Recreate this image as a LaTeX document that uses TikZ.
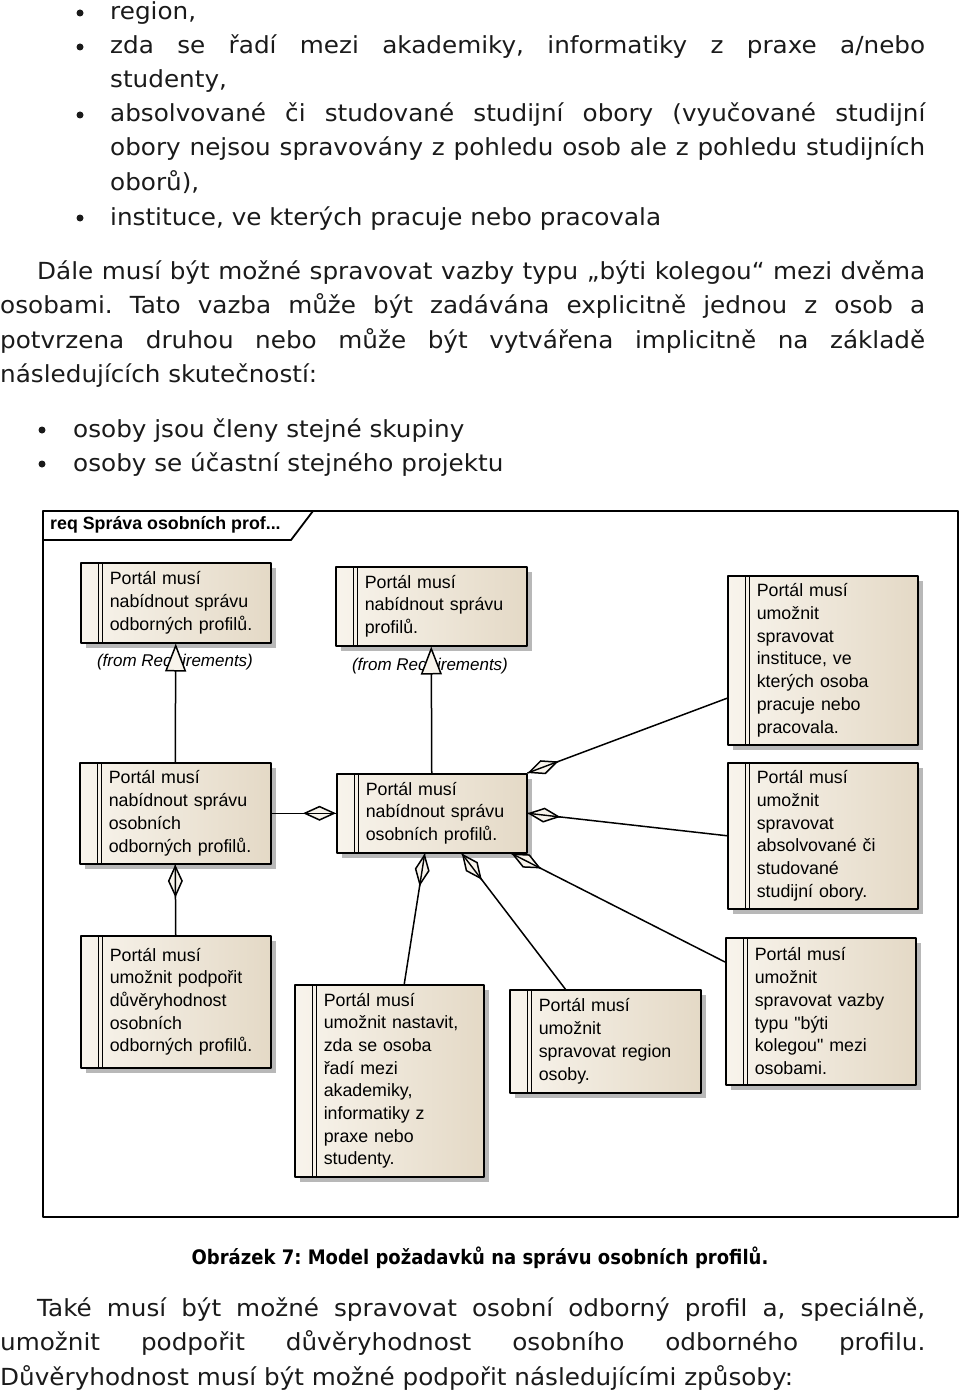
\documentclass[tikz,border=0pt]{standalone}
\usepackage{fontspec}
\setmainfont{DejaVu Sans}
\newfontfamily\bodyfont[FakeStretch=1.05]{DejaVu Sans}
\newfontfamily\umlfont{Liberation Sans}
\newfontfamily\capfont[FakeStretch=0.9]{DejaVu Sans}
\usetikzlibrary{arrows.meta,calc,shadows}
\frenchspacing

\definecolor{reqlight}{HTML}{F8F4EC}
\definecolor{reqdark}{HTML}{E4D9C6}
\definecolor{reqshadow}{HTML}{B8B8B8}
\definecolor{bodyink}{HTML}{1A1A1A}

\tikzset{
  bodytxt/.style={anchor=base west,inner sep=0pt,text=bodyink,
    font=\bodyfont\fontsize{23.5}{34}\selectfont},
  reqbox/.style 2 args={anchor=north west,draw,line width=1.5pt,
    left color=reqlight,right color=reqdark,inner sep=0pt,
    text width=#1,minimum width=#1,minimum height=#2,align=left,
    font=\umlfont\fontsize{17.8}{22.7}\selectfont,
    execute at begin node={\leftskip=29pt},
    drop shadow={shadow xshift=5pt,shadow yshift=-5pt,fill=reqshadow,opacity=1},
    path picture={\draw[line width=1.4pt]
      ([xshift=18pt]path picture bounding box.north west) --
      ([xshift=18pt]path picture bounding box.south west)
      ([xshift=22pt]path picture bounding box.north west) --
      ([xshift=22pt]path picture bounding box.south west);}},
  fromtxt/.style={inner sep=0pt,font=\umlfont\itshape\fontsize{17}{20}\selectfont},
  realize/.style={line width=1.5pt,-{Triangle[length=28pt,width=21pt,fill=reqlight]}},
  aggr/.style={line width=1.5pt,-{Diamond[length=33pt,width=15pt,fill=reqlight]}},
  dot/.style={fill=bodyink}
}
% whole-part link: diamond at the second end, axis line through it
\newcommand\partof[2]{%
  \draw[aggr] (#1) -- (#2);
  \draw[line width=1.4pt] ($(#2)!33pt!(#1)$) -- (#2);}

\begin{document}
\begin{tikzpicture}[x=1pt,y=-1pt,line cap=round,line join=round]
\useasboundingbox (0,0) rectangle (960,1391);

% text above the figure
\fill[dot] (80,13) circle (3.5);
\node[bodytxt] (t1) at (110,20) {region,};
\fill[dot] (80,47) circle (3.5);
\node[bodytxt] (t2) at (110,54) {\makebox[815pt][s]{zda se řadí mezi akademiky, informatiky z praxe a/nebo}};
\node[bodytxt] (t3) at (110,88) {studenty,};
\fill[dot] (80,115) circle (3.5);
\node[bodytxt] (t4) at (110,122) {\makebox[815pt][s]{absolvované či studované studijní obory (vyučované studijní}};
\node[bodytxt] (t5) at (110,156) {\makebox[815pt][s]{obory nejsou spravovány z pohledu osob ale z pohledu studijních}};
\node[bodytxt] (t6) at (110,190) {oborů),};
\fill[dot] (80,218) circle (3.5);
\node[bodytxt] (t7) at (110,225) {instituce, ve kterých pracuje nebo pracovala};
\node[bodytxt] (t8) at (37,279) {\makebox[888pt][s]{Dále musí být možné spravovat vazby typu „býti kolegou“ mezi dvěma}};
\node[bodytxt] (t9) at (0,313) {\makebox[925pt][s]{osobami. Tato vazba může být zadávána explicitně jednou z osob a}};
\node[bodytxt] (t10) at (0,348) {\makebox[925pt][s]{potvrzena druhou nebo může být vytvářena implicitně na základě}};
\node[bodytxt] (t11) at (0,382) {následujících skutečností:};
\fill[dot] (42,430) circle (3.5);
\node[bodytxt] (t12) at (73,437) {osoby jsou členy stejné skupiny};
\fill[dot] (42,464) circle (3.5);
\node[bodytxt] (t13) at (73,471) {osoby se účastní stejného projektu};

% diagram frame
\draw[line width=1.8pt] (43,511) rectangle (958,1217);
\draw[line width=1.8pt] (43,540) -- (291,540) -- (313,511);
\node[anchor=west,inner sep=0pt,font=\umlfont\bfseries\fontsize{17.8}{20}\selectfont] (hdr) at (50,525) {req Správa osobních prof...};

% requirements
\node[reqbox={190pt}{80pt}] (reqOdborne) at (80,562) {Portál musí\\nabídnout správu\\odborných profilů.};
\node[reqbox={191pt}{79pt}] (reqProfily) at (335,566) {Portál musí\\nabídnout správu\\profilů.};
\node[reqbox={190pt}{169pt}] (reqInstituce) at (727,575) {Portál musí\\umožnit\\spravovat\\instituce, ve\\kterých osoba\\pracuje nebo\\pracovala.};
\node[reqbox={191pt}{101pt}] (reqOsobniOdb) at (79,762) {Portál musí\\nabídnout správu\\osobních\\odborných profilů.};
\node[reqbox={190pt}{79pt}] (reqOsobni) at (336,773) {Portál musí\\nabídnout správu\\osobních profilů.};
\node[reqbox={190pt}{146pt}] (reqObory) at (727,762) {Portál musí\\umožnit\\spravovat\\absolvované či\\studované\\studijní obory.};
\node[reqbox={190pt}{132pt}] (reqDuvera) at (80,935) {Portál musí\\umožnit podpořit\\důvěryhodnost\\osobních\\odborných profilů.};
\node[reqbox={189pt}{192pt}] (reqTyp) at (294,984) {Portál musí\\umožnit nastavit,\\zda se osoba\\řadí mezi\\akademiky,\\informatiky z\\praxe nebo\\studenty.};
\node[reqbox={191pt}{103pt}] (reqRegion) at (509,989) {Portál musí\\umožnit\\spravovat region\\osoby.};
\node[reqbox={190pt}{147pt}] (reqKolega) at (725,937) {Portál musí\\umožnit\\spravovat vazby\\typu "býti\\kolegou" mezi\\osobami.};

\node[fromtxt] (fromOdborne) at (175,662) {(from Requirements)};
\node[fromtxt] (fromProfily) at (430,666) {(from Requirements)};

% links
\draw[realize] (reqOsobniOdb.north) -- (reqOdborne.south);
\draw[realize] (reqOsobni.north) -- (reqProfily.south);
\partof{reqDuvera.north}{reqOsobniOdb.south}
\partof{reqOsobniOdb.east}{reqOsobni.west}
\partof{[yshift=-38pt]reqInstituce.west}{reqOsobni.north east}
\partof{reqObory.west}{reqOsobni.east}
\partof{[yshift=-25pt]reqKolega.north west}{[xshift=-16pt]reqOsobni.south east}
\partof{[xshift=-40pt]reqRegion.north}{[xshift=30pt]reqOsobni.south}
\partof{[xshift=15pt]reqTyp.north}{[xshift=-7pt]reqOsobni.south}

\node[font=\capfont\bfseries\fontsize{20}{24}\selectfont,inner sep=0pt] (caption) at (480,1258) {Obrázek 7: Model požadavků na správu osobních profilů.};

% text below the figure
\node[bodytxt] (b1) at (37,1316) {\makebox[888pt][s]{Také musí být možné spravovat osobní odborný profil a, speciálně,}};
\node[bodytxt] (b2) at (0,1350) {\makebox[925pt][s]{umožnit podpořit důvěryhodnost osobního odborného profilu.}};
\node[bodytxt] (b3) at (0,1385) {Důvěryhodnost musí být možné podpořit následujícími způsoby:};
\end{tikzpicture}
\end{document}
